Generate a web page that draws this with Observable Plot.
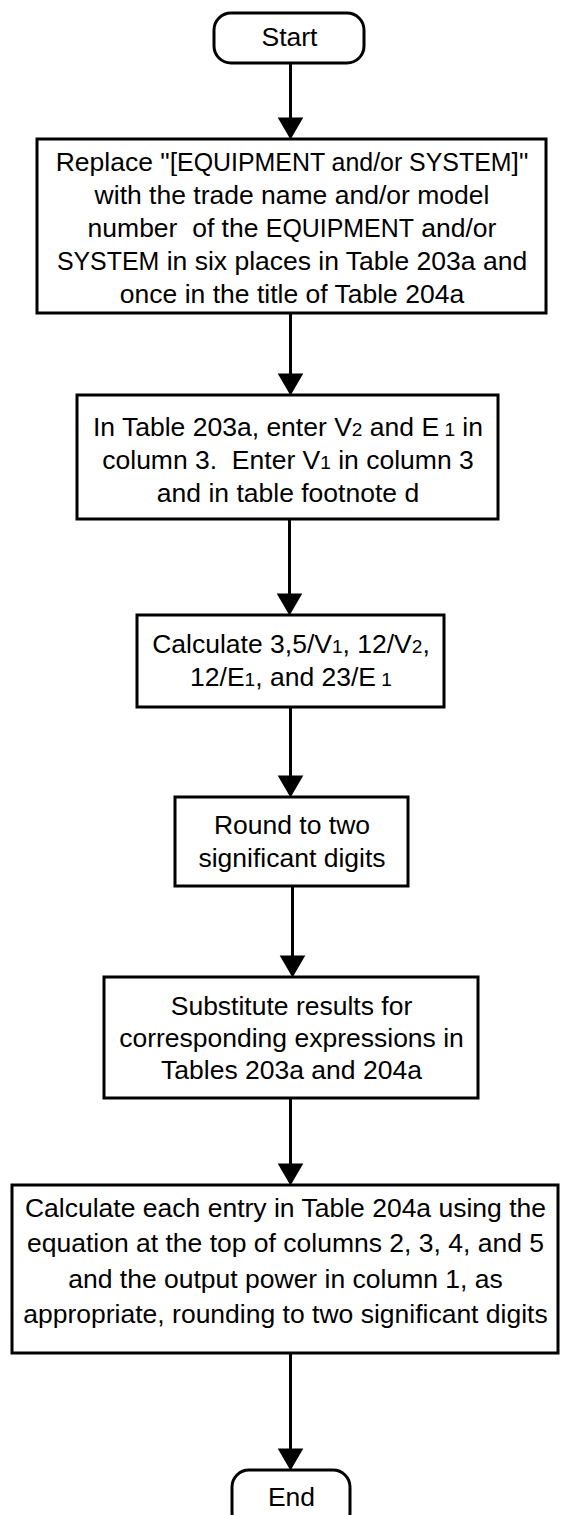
<!DOCTYPE html>
<html>
<head>
<meta charset="utf-8">
<script src="https://cdn.jsdelivr.net/npm/d3@7"></script>
<script src="https://cdn.jsdelivr.net/npm/@observablehq/plot@0.6"></script>
<style>
  html, body { margin: 0; padding: 0; background: #fff; }
  #chart svg text { white-space: pre; }
</style>
</head>
<body>
<div id="chart"></div>
<script>
// ---- flowchart data ----
const nodeIds = ["start", "replace", "enter", "calc", "round", "subst", "calcEach", "end"];
const nodeShapes = ["terminal", "process", "process", "process", "process", "process", "process", "terminal"];
// text lines; _{..} = subscript, ^{..} = slightly smaller words
const nodeLines = [
  ["Start"],
  ['Replace "[^{EQUIPMENT and/or SYSTEM}]"',
   "with the trade name and/or model",
   "number  of the ^{EQUIPMENT} and/or",
   "^{SYSTEM} in six places in Table 203a and",
   "once in the title of Table 204a"],
  ["In Table 203a, enter V_{2} and E_{ 1} in",
   "column 3.  Enter V_{1} in column 3",
   "and in table footnote d"],
  ["Calculate 3,5/V_{1}, 12/V_{2},",
   "12/E_{1}, and 23/E_{ 1}"],
  ["Round to two",
   "significant digits"],
  ["Substitute results for",
   "corresponding expressions in",
   "Tables 203a and 204a"],
  ["Calculate each entry in Table 204a using the",
   "equation at the top of columns 2, 3, 4, and 5",
   "and the output power in column 1, as",
   "appropriate, rounding to two significant digits"],
  ["End"]
];
const nodeLeft   = [214,  37,  77, 137, 175,  104,   12,  232];
const nodeRight  = [364, 546, 498, 444, 408,  478,  558,  350];
const nodeTop    = [ 13, 139, 395, 615, 797,  977, 1185, 1470];
const nodeBottom = [ 63, 313, 519, 707, 886, 1098, 1353, 1530];
const textCenterY = [37, 228, 460, 661, 842, 1038, 1261, 1497];
const lineGap     = [0, 33, 33, 33, 33, 32, 35.5, 0];
// x position of the connector below each node
const arrowX = [290, 290, 289, 290, 292, 290, 290];

// ---- derived tables ----
const nodes = nodeIds.map((id, i) => ({
  id, shape: nodeShapes[i],
  x1: nodeLeft[i], x2: nodeRight[i], y1: nodeTop[i], y2: nodeBottom[i]
}));
const textRows = nodes.flatMap((n, i) => nodeLines[i].map((t, j) => ({
  text: t,
  x: (n.x1 + n.x2) / 2,
  y: textCenterY[i] + (j - (nodeLines[i].length - 1) / 2) * lineGap[i]
})));
const edges = arrowX.map((x, i) => ({ x, y1: nodeBottom[i], y2: nodeTop[i + 1] }));

const headR = 9.5;             // triangle symbol radius
const headApex = 14.7;         // centroid-to-apex distance for that radius

const plot = Plot.plot({
  width: 562,
  height: 1515,
  margin: 0,
  x: { type: "linear", domain: [0, 562], range: [0, 562], axis: null },
  y: { type: "linear", domain: [0, 1515], range: [0, 1515], axis: null },
  style: { background: "#fff", fontFamily: "'Liberation Sans', Arial, Helvetica, sans-serif" },
  marks: [
    Plot.link(edges, {
      x1: "x", x2: "x", y1: "y1", y2: d => d.y2 - 18,
      stroke: "black", strokeWidth: 3
    }),
    Plot.dot(edges, {
      x: "x", y: d => d.y2 - headApex,
      symbol: "triangle", r: headR, rotate: 180,
      fill: "black", stroke: "none"
    }),
    Plot.rect(nodes.filter(d => d.shape === "process"), {
      x1: "x1", x2: "x2", y1: "y1", y2: "y2",
      fill: "white", stroke: "black", strokeWidth: 3
    }),
    Plot.rect(nodes.filter(d => d.shape === "terminal"), {
      x1: "x1", x2: "x2", y1: "y1", y2: "y2",
      rx: 17, ry: 17,
      fill: "white", stroke: "black", strokeWidth: 3
    }),
    Plot.text(textRows, {
      x: "x", y: "y", text: "text",
      fontSize: 26.5, fill: "black"
    })
  ]
});

document.getElementById("chart").appendChild(plot);

// rebuild texts that carry subscript / small-word markup as tspans
const XMLNS = "http://www.w3.org/XML/1998/namespace";
plot.querySelectorAll("text").forEach(t => {
  t.setAttributeNS(XMLNS, "xml:space", "preserve");
  const s = t.textContent;
  if (!/[_^]\{/.test(s)) return;
  t.textContent = "";
  const re = /_\{([^}]*)\}|\^\{([^}]*)\}|([^_^]+|[_^])/g;
  let m;
  while ((m = re.exec(s)) !== null) {
    const ts = document.createElementNS("http://www.w3.org/2000/svg", "tspan");
    ts.setAttributeNS(XMLNS, "xml:space", "preserve");
    if (m[1] !== undefined) {
      ts.textContent = m[1];
      ts.setAttribute("font-size", "0.72em");
    } else if (m[2] !== undefined) {
      ts.textContent = m[2];
      ts.setAttribute("font-size", "0.94em");
    } else {
      ts.textContent = m[3];
    }
    t.appendChild(ts);
  }
});
</script>
</body>
</html>
